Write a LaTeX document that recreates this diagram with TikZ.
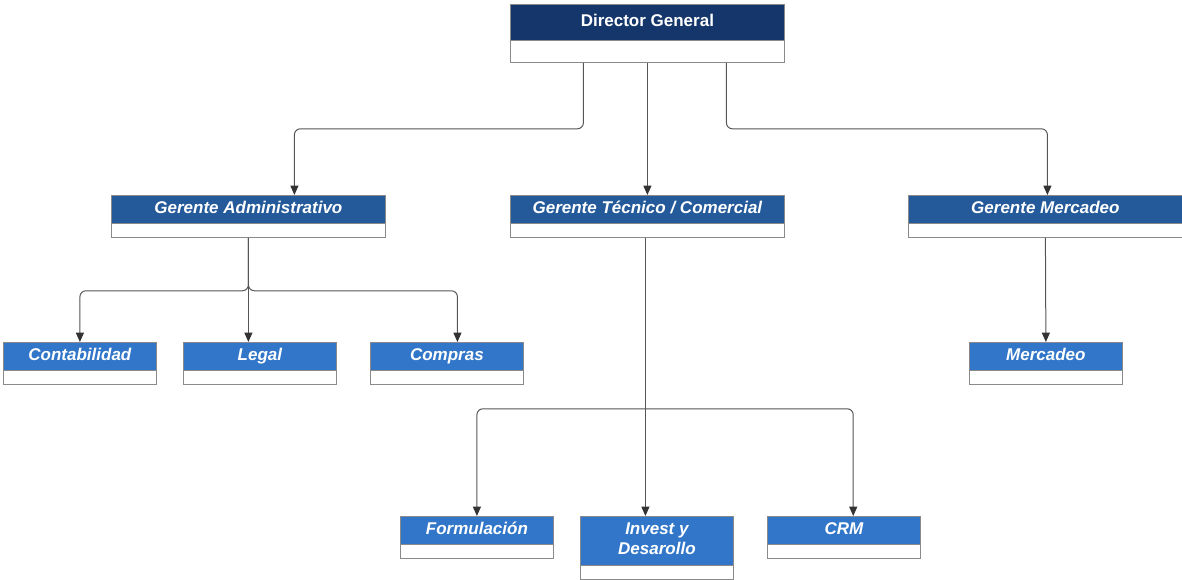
\documentclass[tikz,border=0pt]{standalone}
\usepackage{fontspec}
\setmainfont{Liberation Sans}
\usetikzlibrary{arrows.meta,calc}

\definecolor{navy}{HTML}{14366B}
\definecolor{midblue}{HTML}{245A9A}
\definecolor{leafblue}{HTML}{3176C8}
\definecolor{framegray}{HTML}{8A8A8A}
\definecolor{wiregray}{HTML}{555555}

\begin{document}
\begin{tikzpicture}[x=0.75pt,y=-0.75pt,
  card/.style={draw=framegray,fill=white,line width=0.6pt,rectangle,inner sep=0pt,anchor=north west},
  headcell/.style={draw=framegray,line width=0.6pt,rectangle,inner sep=0pt,anchor=north west,
    text=white,align=center,
    font=\fontsize{12.75pt}{15pt}\selectfont\bfseries\itshape},
  fixedline/.style={text height=9.5pt,text depth=3pt},
  topcell/.style={headcell,fixedline,fill=navy,font=\fontsize{12.75pt}{15pt}\selectfont\bfseries},
  mgrcell/.style={headcell,fixedline,fill=midblue},
  leafcell/.style={headcell,fixedline,fill=leafblue},
  tallcell/.style={headcell,fill=leafblue},
  wide/.style={minimum width=205.5pt},
  narrow/.style={minimum width=114.75pt},
  link/.style={draw=wiregray,line width=0.75pt,rounded corners=4.5pt,
    -{Triangle[length=7pt,width=6pt,fill=black!80,color=black!80]}}
]
\useasboundingbox (0,0) rectangle (1182,580);

% ---- Director General
\node[card,wide,minimum height=43.5pt] (dg) at (510,4) {};
\node[topcell,wide,minimum height=27pt] (dgh) at (dg.north west) {Director General};

% ---- managers
\node[card,wide,minimum height=31.5pt] (ga) at (111,195) {};
\node[mgrcell,wide,minimum height=21pt] (gah) at (ga.north west) {Gerente Administrativo};

\node[card,wide,minimum height=31.5pt] (gt) at (510,195) {};
\node[mgrcell,wide,minimum height=21pt] (gth) at (gt.north west) {Gerente Técnico / Comercial};

\node[card,wide,minimum height=31.5pt] (gm) at (908,195) {};
\node[mgrcell,wide,minimum height=21pt] (gmh) at (gm.north west) {Gerente Mercadeo};

% ---- administrative units
\node[card,narrow,minimum height=31.5pt] (cont) at (3,342) {};
\node[leafcell,narrow,minimum height=21pt] (conth) at (cont.north west) {Contabilidad};

\node[card,narrow,minimum height=31.5pt] (leg) at (183,342) {};
\node[leafcell,narrow,minimum height=21pt] (legh) at (leg.north west) {Legal};

\node[card,narrow,minimum height=31.5pt] (comp) at (370,342) {};
\node[leafcell,narrow,minimum height=21pt] (comph) at (comp.north west) {Compras};

% ---- marketing unit
\node[card,narrow,minimum height=31.5pt] (mer) at (969,342) {};
\node[leafcell,narrow,minimum height=21pt] (merh) at (mer.north west) {Mercadeo};

% ---- technical / commercial units
\node[card,narrow,minimum height=31.5pt] (form) at (400,516) {};
\node[leafcell,narrow,minimum height=21pt] (formh) at (form.north west) {Formulación};

\node[card,narrow,minimum height=47.25pt] (inv) at (580,516) {};
\node[tallcell,narrow,minimum height=36.75pt] (invh) at (inv.north west) {Invest y\\Desarollo\rule[-3pt]{0pt}{3pt}};

\node[card,narrow,minimum height=31.5pt] (crm) at (767,516) {};
\node[leafcell,narrow,minimum height=21pt] (crmh) at (crm.north west) {CRM};

% ---- connectors from the director
\draw[link] ([xshift=-48pt]dg.south) -- ++(0,66) -| ([xshift=34.5pt]gah.north);
\draw[link] (dg.south) -- (gth.north);
\draw[link] ([xshift=59.25pt]dg.south) -- ++(0,66) -| ([xshift=1.5pt]gmh.north);

% ---- connectors from the administrative manager
\draw[link] (ga.south) -- ++(0,53) -| (conth.north);
\draw[link] (ga.south) -- (ga.south |- legh.north);
\draw[link] (ga.south) -- ++(0,53) -| ([xshift=7.9pt]comph.north);

% ---- connectors from the technical / commercial manager
\coordinate (tj) at ([xshift=-1.5pt,yshift=-128.25pt]gt.south);
\draw[link] ([xshift=-1.5pt]gt.south) -- ([xshift=-1.5pt]gt.south |- invh.north);
\draw[link] (tj) -| (formh.north);
\draw[link] (tj) -| ([xshift=7pt]crmh.north);

% ---- connector from the marketing manager
\draw[link] (gm.south) -- (merh.north);
\end{tikzpicture}
\end{document}
